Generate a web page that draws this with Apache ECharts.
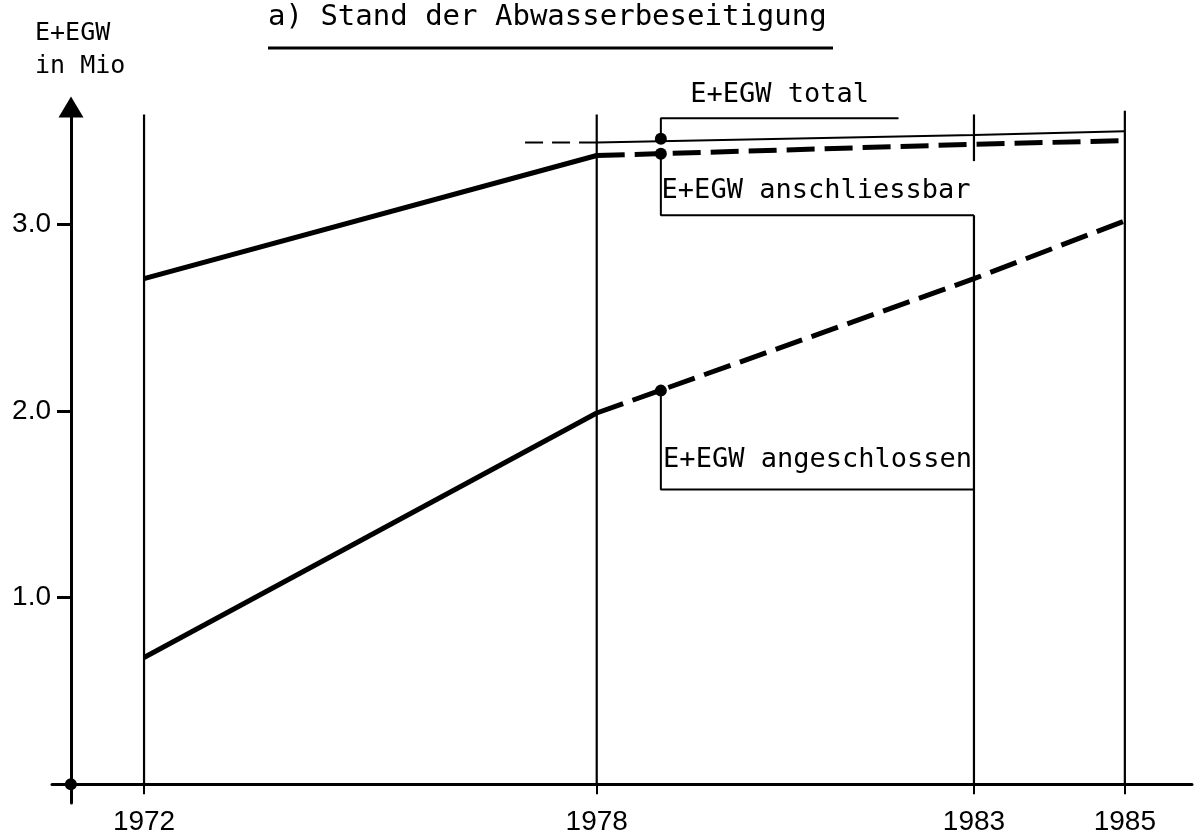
<!DOCTYPE html>
<html>
<head>
<meta charset="utf-8">
<script src="https://cdn.jsdelivr.net/npm/echarts@6/dist/echarts.min.js"></script>
<style>
  html, body { margin: 0; padding: 0; background: #fff; }
  #chart { width: 1196px; height: 836px; }
</style>
</head>
<body>
<div id="chart"></div>
<script>
// years on the x axis
const yearTicks = [1972, 1978, 1983, 1985];
const yTicks = [1, 2, 3];

// E+EGW anschliessbar (thick)
const anschlSolidYears = [1972, 1978];
const anschlSolid = [2.71, 3.37];
const anschlDashYears = [1978, 1983, 1985];
const anschlDash = [3.37, 3.43, 3.45];

// E+EGW angeschlossen (thick)
const angesSolidYears = [1972, 1978];
const angesSolid = [0.68, 1.99];
const angesDashYears = [1978, 1983, 1985];
const angesDash = [1.99, 2.71, 3.02];

// E+EGW total (thin)
const totalDashYears = [1977.05, 1978];
const totalDash = [3.44, 3.44];
const totalSolidYears = [1978, 1983, 1985];
const totalSolid = [3.44, 3.48, 3.5];

// vertical year lines [year, from, to]
const vLineYears = [1972, 1978, 1983, 1985, 1983];
const vLineFrom = [0, 0, 3.34, 0, 0];
const vLineTo = [3.59, 3.59, 3.59, 3.61, 3.05];

// marker dots at the label year
const dotYear = 1978.85;
const dotValues = [3.46, 3.38, 2.11];

// leader lines (label boxes)
const leaderYears = [
  [1978.85, 1978.85, 1982.0],
  [1978.85, 1978.85, 1983],
  [1978.85, 1978.85, 1983],
];
const leaderValues = [
  [3.46, 3.57, 3.57],
  [3.38, 3.05, 3.05],
  [2.11, 1.58, 1.58],
];

// labels
const labelNames = ["E+EGW total", "E+EGW anschliessbar", "E+EGW angeschlossen"];
const labelYears = [1979.24, 1978.86, 1978.88];
const labelValues = [3.695, 3.18, 1.74];

const originYear = 1971.03;

function pairs(xs, ys) {
  return xs.map((x, i) => [x, ys[i]]);
}

function lineSeries(data, width, type) {
  return {
    type: "line",
    data: data,
    symbol: "none",
    silent: true,
    clip: false,
    lineStyle: { color: "#000", width: width, type: type, cap: "butt" },
  };
}

const myChart = echarts.init(document.getElementById("chart"), null, { renderer: "canvas" });

const series = [];
// vertical lines
vLineYears.forEach((y, i) => {
  series.push(lineSeries([[y, vLineFrom[i]], [y, vLineTo[i]]], 2.2, "solid"));
});
// leader lines
leaderYears.forEach((xs, i) => {
  series.push(lineSeries(pairs(xs, leaderValues[i]), 2, "solid"));
});
// total
series.push(lineSeries(pairs(totalDashYears, totalDash), 2, [18, 9]));
series.push(lineSeries(pairs(totalSolidYears, totalSolid), 2, "solid"));
// anschliessbar
series.push(lineSeries(pairs(anschlSolidYears, anschlSolid), 5, "solid"));
series.push(lineSeries(pairs(anschlDashYears, anschlDash), 5, [28, 10]));
// angeschlossen
series.push(lineSeries(pairs(angesSolidYears, angesSolid), 5, "solid"));
series.push(lineSeries(pairs(angesDashYears, angesDash), 5, [28, 10]));
// dots
series.push({
  type: "scatter",
  symbolSize: 12,
  silent: true,
  clip: false,
  itemStyle: { color: "#000", opacity: 1 },
  data: dotValues.map((v) => [dotYear, v]).concat([[originYear, 0]]),
});
// labels
series.push({
  type: "scatter",
  symbolSize: 0,
  silent: true,
  clip: false,
  itemStyle: { opacity: 1 },
  label: {
    show: true,
    position: "right",
    distance: 0,
    formatter: (p) => p.name,
    color: "#000",
    opacity: 1,
    fontFamily: "DejaVu Sans Mono",
    fontSize: 27,
  },
  data: labelNames.map((n, i) => ({ name: n, value: [labelYears[i], labelValues[i]] })),
});

var option = {
  backgroundColor: "#fff",
  animation: false,
  grid: { left: 52, right: 4, top: 107, bottom: 20, containLabel: false },
  xAxis: {
    type: "value",
    min: 1970.78,
    max: 1985.89,
    splitLine: { show: false },
    axisLine: { onZero: true, lineStyle: { color: "#000", width: 3 } },
    axisTick: { customValues: yearTicks, length: 10, lineStyle: { color: "#000", width: 2 } },
    axisLabel: {
      customValues: yearTicks,
      formatter: (v) => String(v),
      margin: 5,
      color: "#000",
      fontFamily: "Liberation Sans",
      fontSize: 28,
    },
  },
  yAxis: {
    type: "value",
    min: -0.1,
    max: 3.63,
    offset: -19,
    splitLine: { show: false },
    axisLine: {
      lineStyle: { color: "#000", width: 3 },
      symbol: ["none", "triangle"],
      symbolSize: [25, 21],
      symbolOffset: [0, 0],
    },
    axisTick: { customValues: yTicks, length: 14, lineStyle: { color: "#000", width: 3 } },
    axisLabel: {
      customValues: yTicks,
      formatter: (v) => v.toFixed(1),
      margin: 20,
      padding: [0, 0, 20, 0],
      color: "#000",
      fontFamily: "Liberation Sans",
      fontSize: 28,
    },
  },
  graphic: [
    {
      type: "text",
      x: 268,
      y: 3,
      style: {
        text: "a) Stand der Abwasserbeseitigung",
        fill: "#000",
        font: '29px "DejaVu Sans Mono"',
        textVerticalAlign: "top",
      },
    },
    {
      type: "line",
      shape: { x1: 268, y1: 48, x2: 833, y2: 48 },
      style: { stroke: "#000", lineWidth: 3 },
    },
    {
      type: "text",
      x: 35,
      y: 17,
      style: {
        text: "E+EGW\nin Mio",
        fill: "#000",
        font: '25px "DejaVu Sans Mono"',
        lineHeight: 33,
        textVerticalAlign: "top",
      },
    },
  ],
  series: series,
};

myChart.setOption(option);
window.addEventListener("resize", function () {
  myChart.resize();
});
</script>
</body>
</html>
